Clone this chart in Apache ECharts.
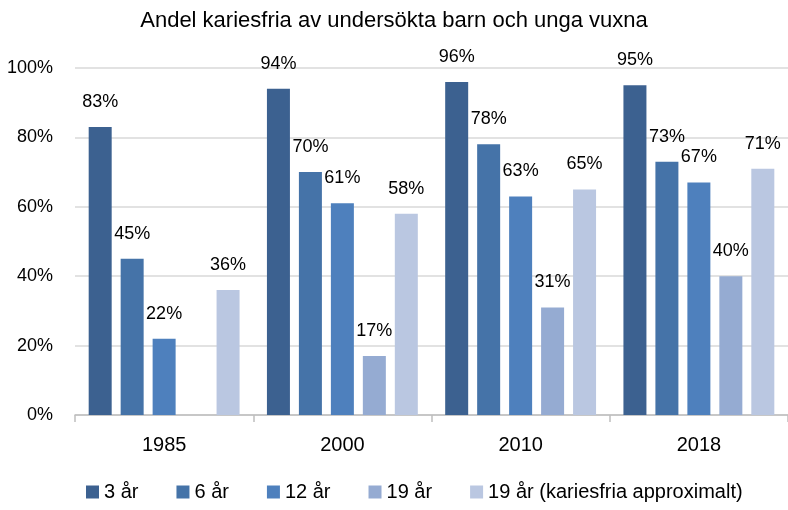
<!DOCTYPE html>
<html><head><meta charset="utf-8">
<script src="https://cdn.jsdelivr.net/npm/echarts@6/dist/echarts.min.js"></script>
<style>html,body{margin:0;padding:0;background:#fff}#c{width:788px;height:510px}</style>
</head><body><div id="c"></div>
<script>
const categories = ['1985', '2000', '2010', '2018'];
const seriesNames = ['3 år', '6 år', '12 år', '19 år', '19 år (kariesfria approximalt)'];
const v3 = [83, 94, 96, 95];
const v6 = [45, 70, 78, 73];
const v12 = [22, 61, 63, 67];
const v19 = [null, 17, 31, 40];
const v19a = [36, 58, 65, 71];
const yTicks = [0, 20, 40, 60, 80, 100];
const colors = ['#3C6190', '#4573A8', '#4E80BD', '#95ABD2', '#BAC7E1'];
const font = 'Liberation Sans';
const values = [v3, v6, v12, v19, v19a];
const chart = echarts.init(document.getElementById('c'), null, {renderer: 'canvas'});
chart.setOption({
  animation: false,
  title: {text: 'Andel kariesfria av undersökta barn och unga vuxna', left: 'center', top: 5,
    textStyle: {fontFamily: font, fontSize: 22, fontWeight: 'normal', color: '#000'}},
  legend: {bottom: 3, left: 81, itemWidth: 13, itemHeight: 13, itemGap: 38, icon: 'rect',
    textStyle: {fontFamily: font, fontSize: 20, color: '#000'}, data: seriesNames},
  grid: {left: 75, right: -3, top: 68, bottom: 95, containLabel: false},
  xAxis: {type: 'category', data: categories,
    axisLine: {lineStyle: {color: '#BFBFBF', width: 1.5}},
    axisTick: {show: true, length: 7, lineStyle: {color: '#BFBFBF', width: 1.5}},
    axisLabel: {fontFamily: font, fontSize: 20, color: '#000', margin: 20}},
  yAxis: {type: 'value', min: yTicks[0], max: yTicks[yTicks.length - 1], interval: 20,
    axisLine: {show: false}, axisTick: {show: false},
    axisLabel: {fontFamily: font, fontSize: 18, color: '#000', margin: 22, formatter: v => v + '%'},
    splitLine: {lineStyle: {color: '#D9D9D9', width: 1.5}}},
  series: values.map((d, i) => ({
    name: seriesNames[i], type: 'bar', data: d, barWidth: 23, barGap: '39%',
    itemStyle: {color: colors[i]},
    label: {show: true, position: 'top', distance: 16, fontFamily: font, fontSize: 18, color: '#000',
      formatter: p => p.value == null ? '' : p.value + '%'}
  }))
});
</script></body></html>
